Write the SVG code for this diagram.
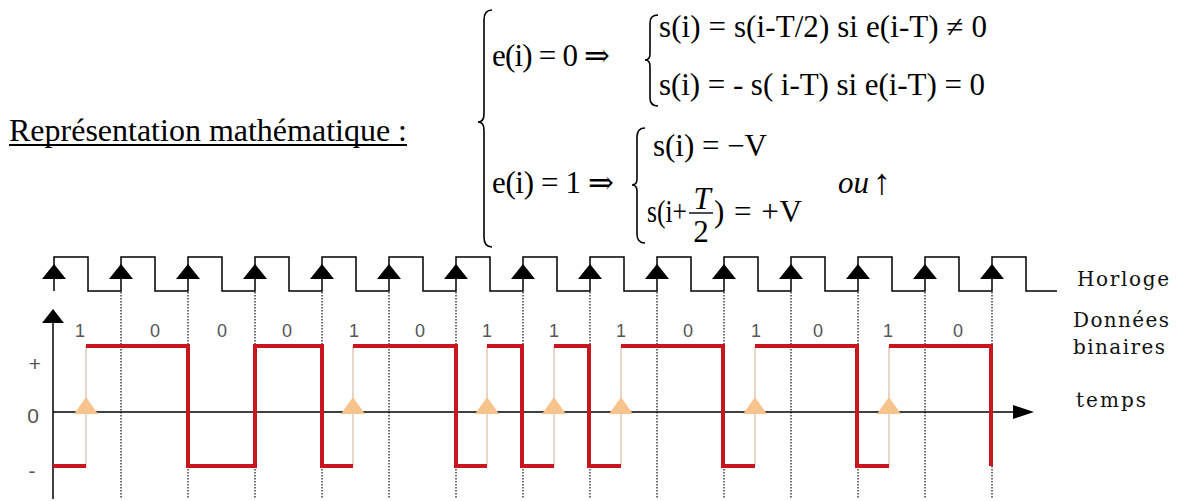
<svg xmlns="http://www.w3.org/2000/svg" xmlns:xlink="http://www.w3.org/1999/xlink" width="1184" height="501" viewBox="0 0 1184 501">
<style>
.t{font-family:"Liberation Serif","Times New Roman",serif;font-size:32px;fill:#000}
.m{font-family:"Liberation Serif","DejaVu Serif",serif;font-size:31px;fill:#000}
.mi{font-family:"Liberation Serif","DejaVu Serif",serif;font-size:31px;font-style:italic;fill:#000}
.br{fill:none;stroke:#000;stroke-width:1.6}
.lbl{font-family:"Liberation Sans",Arial,sans-serif;font-size:18px;fill:#555;text-anchor:middle}
.ax{font-family:"Liberation Sans",Arial,sans-serif;font-size:21px;fill:#555;text-anchor:middle}
.rt{font-family:"DejaVu Serif",serif;font-size:20px;fill:#111}
.dot{stroke:#222;stroke-width:1.3;stroke-dasharray:1.5 1.5}
.thin{stroke:#d9c2ae;stroke-width:1.3}
</style>
<defs>
<polygon id="clkArrow" points="0,-11 12,4 -12,4" fill="#000"/>
<polygon id="tri" points="0,-15 12,2 -12,2" fill="#f8c48e"/>
</defs>

<g id="title">
<text class="t" x="9" y="141" textLength="398" lengthAdjust="spacing">Représentation mathématique :</text>
<line x1="9" y1="145" x2="407" y2="145" stroke="#000" stroke-width="2"/>
</g>

<g id="formula">
<path class="br" d="M492,10 Q484,10 484,20 L484,114 Q484,122 478,122 Q484,122 484,130 L484,237 Q484,247 492,247"/>
<text class="m" x="492" y="66" textLength="118" lengthAdjust="spacing">e(i) = 0 ⇒</text>
<path class="br" d="M658,15 Q650,15 650,23 L650,54 Q650,60 645,60 Q650,60 650,66 L650,98 Q650,106 658,106"/>
<text class="m" x="659" y="37" textLength="328" lengthAdjust="spacing">s(i) = s(i-T/2) si e(i-T) ≠ 0</text>
<text class="m" x="659" y="95" textLength="326" lengthAdjust="spacing">s(i) = - s( i-T) si e(i-T) = 0</text>
<text class="m" x="492" y="193" textLength="122" lengthAdjust="spacing">e(i) = 1 ⇒</text>
<path class="br" d="M645,128 Q637,128 637,137 L637,179 Q637,185 632,185 Q637,185 637,191 L637,234 Q637,243 645,243"/>
<text class="m" x="653" y="156" textLength="114" lengthAdjust="spacing">s(i) = −V</text>
<text class="m" x="647" y="222" textLength="40" lengthAdjust="spacingAndGlyphs">s(i+</text>
<text class="mi" x="702" y="209" text-anchor="middle">T</text>
<line x1="689" y1="213" x2="713" y2="213" stroke="#000" stroke-width="1.4"/>
<text class="m" x="701" y="242" text-anchor="middle">2</text>
<text class="m" x="714" y="222" textLength="88" lengthAdjust="spacing">) = +V</text>
<text class="mi" x="838" y="193">ou</text>
<text class="m" x="873" y="194" style="font-size:36px">↑</text>
</g>

<g id="clock">
<path d="M54,291 V257 H88 V291 H121 V257 H155 V291 H188 V257 H222 V291 H255 V257 H289 V291 H322 V257 H356 V291 H389 V257 H423 V291 H456 V257 H490 V291 H523 V257 H557 V291 H590 V257 H624 V291 H657 V257 H691 V291 H724 V257 H758 V291 H791 V257 H825 V291 H858 V257 H892 V291 H925 V257 H959 V291 H992 V257 H1026 V291 H1057" fill="none" stroke="#000" stroke-width="1.5"/>
<use xlink:href="#clkArrow" x="54" y="275"/>
<use xlink:href="#clkArrow" x="121" y="275"/>
<use xlink:href="#clkArrow" x="188" y="275"/>
<use xlink:href="#clkArrow" x="255" y="275"/>
<use xlink:href="#clkArrow" x="322" y="275"/>
<use xlink:href="#clkArrow" x="389" y="275"/>
<use xlink:href="#clkArrow" x="456" y="275"/>
<use xlink:href="#clkArrow" x="523" y="275"/>
<use xlink:href="#clkArrow" x="590" y="275"/>
<use xlink:href="#clkArrow" x="657" y="275"/>
<use xlink:href="#clkArrow" x="724" y="275"/>
<use xlink:href="#clkArrow" x="791" y="275"/>
<use xlink:href="#clkArrow" x="858" y="275"/>
<use xlink:href="#clkArrow" x="925" y="275"/>
<use xlink:href="#clkArrow" x="992" y="275"/>
</g>

<g id="gridlines">
<line class="dot" x1="121" y1="292" x2="121" y2="499"/>
<line class="dot" x1="188" y1="292" x2="188" y2="499"/>
<line class="dot" x1="255" y1="292" x2="255" y2="499"/>
<line class="dot" x1="322" y1="292" x2="322" y2="499"/>
<line class="dot" x1="389" y1="292" x2="389" y2="499"/>
<line class="dot" x1="456" y1="292" x2="456" y2="499"/>
<line class="dot" x1="523" y1="292" x2="523" y2="499"/>
<line class="dot" x1="590" y1="292" x2="590" y2="499"/>
<line class="dot" x1="657" y1="292" x2="657" y2="499"/>
<line class="dot" x1="724" y1="292" x2="724" y2="499"/>
<line class="dot" x1="791" y1="292" x2="791" y2="499"/>
<line class="dot" x1="858" y1="292" x2="858" y2="499"/>
<line class="dot" x1="925" y1="292" x2="925" y2="499"/>
<line class="dot" x1="992" y1="292" x2="992" y2="499"/>
</g>

<g id="axes">
<line x1="53" y1="318" x2="53" y2="499" stroke="#000" stroke-width="1.5"/>
<polygon points="53,309 64,323 42,323" fill="#000"/>
<line x1="53" y1="412" x2="1015" y2="412" stroke="#000" stroke-width="1.5"/>
<polygon points="1034,412 1013,405 1013,419" fill="#000"/>
<text class="ax" x="35" y="371">+</text>
<text class="ax" x="33" y="423">0</text>
<text class="ax" x="32" y="478">-</text>
</g>

<g id="transitions">
<line class="thin" x1="86" y1="346" x2="86" y2="466"/>
<line class="thin" x1="353" y1="346" x2="353" y2="466"/>
<line class="thin" x1="487" y1="346" x2="487" y2="466"/>
<line class="thin" x1="554" y1="346" x2="554" y2="466"/>
<line class="thin" x1="621" y1="346" x2="621" y2="466"/>
<line class="thin" x1="755" y1="346" x2="755" y2="466"/>
<line class="thin" x1="889" y1="346" x2="889" y2="466"/>
<use xlink:href="#tri" x="86" y="412"/>
<use xlink:href="#tri" x="353" y="412"/>
<use xlink:href="#tri" x="487" y="412"/>
<use xlink:href="#tri" x="554" y="412"/>
<use xlink:href="#tri" x="621" y="412"/>
<use xlink:href="#tri" x="755" y="412"/>
<use xlink:href="#tri" x="889" y="412"/>
</g>

<g id="signal">
<path d="M53,466 H86 M86,346 H188 V466 H255 V346 H322 V466 H353 M353,346 H456 V466 H487 M487,346 H522 V466 H554 M554,346 H589 V466 H621 M621,346 H723 V466 H755 M755,346 H857 V466 H889 M889,346 H991 V466" fill="none" stroke="#c8161e" stroke-width="4"/>
</g>

<g id="bits">
<text class="lbl" x="80" y="337">1</text>
<text class="lbl" x="155" y="337">0</text>
<text class="lbl" x="222" y="337">0</text>
<text class="lbl" x="287" y="337">0</text>
<text class="lbl" x="354" y="337">1</text>
<text class="lbl" x="420" y="337">0</text>
<text class="lbl" x="487" y="337">1</text>
<text class="lbl" x="554" y="337">1</text>
<text class="lbl" x="621" y="337">1</text>
<text class="lbl" x="688" y="337">0</text>
<text class="lbl" x="756" y="337">1</text>
<text class="lbl" x="818" y="337">0</text>
<text class="lbl" x="888" y="337">1</text>
<text class="lbl" x="958" y="337">0</text>
</g>

<g id="legend">
<text class="rt" x="1077" y="286" textLength="92" lengthAdjust="spacing">Horloge</text>
<text class="rt" x="1073" y="327" textLength="96" lengthAdjust="spacing">Données</text>
<text class="rt" x="1073" y="354" textLength="92" lengthAdjust="spacing">binaires</text>
<text class="rt" x="1076" y="407" textLength="70" lengthAdjust="spacing">temps</text>
</g>
</svg>
